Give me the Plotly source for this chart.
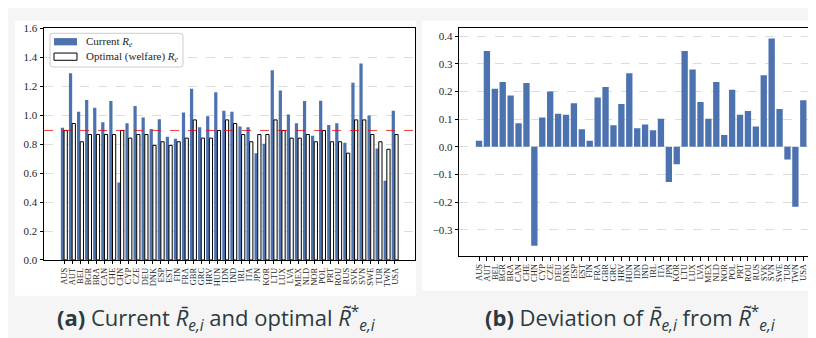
import plotly.graph_objects as go

countries = ["AUS", "AUT", "BEL", "BGR", "BRA", "CAN", "CHE", "CHN", "CYP", "CZE",
             "DEU", "DNK", "ESP", "EST", "FIN", "FRA", "GBR", "GRC", "HRV", "HUN",
             "IDN", "IND", "IRL", "ITA", "JPN", "KOR", "LTU", "LUX", "LVA", "MEX",
             "NLD", "NOR", "POL", "PRT", "ROU", "RUS", "SVK", "SVN", "SWE", "TUR",
             "TWN", "USA"]

current_re = [0.913, 1.290, 1.025, 1.105, 1.052, 0.952, 1.098, 0.535, 0.945, 1.064,
              0.985, 0.905, 0.972, 0.852, 0.838, 1.020, 1.184, 0.918, 0.993, 1.159,
              1.032, 1.025, 0.923, 0.918, 0.738, 0.803, 1.312, 1.172, 1.005, 0.945,
              1.098, 0.858, 1.100, 0.932, 0.945, 0.810, 1.225, 1.358, 0.998, 0.770,
              0.547, 1.032]

optimal_re = [0.895, 0.943, 0.817, 0.867, 0.867, 0.867, 0.867, 0.895, 0.842, 0.867,
              0.867, 0.792, 0.817, 0.792, 0.817, 0.842, 0.968, 0.842, 0.842, 0.895,
              0.968, 0.943, 0.867, 0.817, 0.867, 0.867, 0.968, 0.895, 0.842, 0.842,
              0.867, 0.817, 0.895, 0.817, 0.817, 0.738, 0.968, 0.968, 0.867, 0.817,
              0.765, 0.867]

deviation = [0.022, 0.347, 0.210, 0.235, 0.186, 0.085, 0.231, -0.358, 0.106, 0.200,
             0.120, 0.116, 0.158, 0.064, 0.022, 0.179, 0.217, 0.078, 0.155, 0.266,
             0.067, 0.081, 0.060, 0.102, -0.127, -0.063, 0.347, 0.280, 0.162, 0.102,
             0.235, 0.043, 0.207, 0.116, 0.130, 0.074, 0.259, 0.392, 0.137, -0.046,
             -0.217, 0.169]

mean_optimal = 0.895

legend_labels = ["Current <i>R</i><sub><i>e</i></sub>",
                 "Optimal (welfare) <i>R</i><sub><i>e</i></sub>"]

W, H = 816, 338
BLUE = "#4c72b0"
SERIF = "Liberation Serif, Times New Roman, serif"
idx = list(range(len(countries)))

fig = go.Figure()

fig.add_trace(go.Bar(x=idx, y=current_re, width=0.4, offset=-0.4,
                     marker=dict(color=BLUE, line=dict(width=0)),
                     name="Current R_e", showlegend=False,
                     xaxis="x", yaxis="y"))
fig.add_trace(go.Bar(x=idx, y=optimal_re, width=0.4, offset=0.0,
                     marker=dict(color="white", line=dict(color="black", width=1)),
                     name="Optimal (welfare) R_e", showlegend=False,
                     xaxis="x", yaxis="y"))
fig.add_trace(go.Bar(x=idx, y=deviation, width=0.8,
                     marker=dict(color=BLUE, line=dict(width=0)),
                     name="Deviation", showlegend=False, xaxis="x2", yaxis="y2"))


def px_x(p):
    return p / W


def px_y(p):
    return 1 - p / H


line_common = dict(showline=True, linecolor="black", linewidth=1, mirror=True,
                   ticks="outside", ticklen=3.5, tickwidth=0.8, tickcolor="black",
                   zeroline=False)
ytick_font = dict(family=SERIF, size=11, color="#262626")
xtick_font = dict(family=SERIF, size=8.5, color="#262626")

xr = [-2.49, 43.49]
fig.update_layout(
    width=W, height=H,
    margin=dict(l=0, r=0, t=0, b=0),
    paper_bgcolor="#f5f5f5",
    plot_bgcolor="white",
    barmode="overlay",
    showlegend=False,
    xaxis=dict(domain=[px_x(36), px_x(407)], range=xr, tickmode="array",
               tickvals=idx, ticktext=countries, tickangle=-90, showgrid=False,
               anchor="y", tickfont=xtick_font, **line_common),
    yaxis=dict(domain=[px_y(255), px_y(15)], range=[0, 1.6], dtick=0.2,
               tickformat=".1f", showgrid=True, gridcolor="#dcdcdc",
               griddash="dash", gridwidth=1, anchor="x", tickfont=ytick_font,
               **line_common),
    xaxis2=dict(domain=[px_x(451.3), px_x(815)], range=xr, tickmode="array",
                tickvals=idx, ticktext=countries, tickangle=-90, showgrid=False,
                anchor="y2", tickfont=xtick_font, **line_common),
    yaxis2=dict(domain=[px_y(251), px_y(14.7)], range=[-0.3955, 0.4295], dtick=0.1,
                tickformat=".1f", showgrid=True, gridcolor="#dcdcdc",
                griddash="dash", gridwidth=1, anchor="x2", tickfont=ytick_font,
                **line_common),
)


def rounded_rect(x0, y0, x1, y1, r):
    # pixel coords -> paper path with rounded corners
    X = lambda p: px_x(p)
    Y = lambda p: px_y(p)
    return (f"M {X(x0 + r)} {Y(y0)} L {X(x1 - r)} {Y(y0)} "
            f"Q {X(x1)} {Y(y0)} {X(x1)} {Y(y0 + r)} L {X(x1)} {Y(y1 - r)} "
            f"Q {X(x1)} {Y(y1)} {X(x1 - r)} {Y(y1)} L {X(x0 + r)} {Y(y1)} "
            f"Q {X(x0)} {Y(y1)} {X(x0)} {Y(y1 - r)} L {X(x0)} {Y(y0 + r)} "
            f"Q {X(x0)} {Y(y0)} {X(x0 + r)} {Y(y0)} Z")


shapes = [
    dict(type="rect", xref="paper", yref="paper", x0=px_x(7), x1=px_x(408),
         y0=px_y(292), y1=px_y(7), fillcolor="white", line=dict(width=0), layer="below"),
    dict(type="rect", xref="paper", yref="paper", x0=px_x(414), x1=1.0,
         y0=px_y(287), y1=px_y(7), fillcolor="white", line=dict(width=0), layer="below"),
    dict(type="line", xref="x domain", yref="y", x0=0, x1=1, y0=mean_optimal, y1=mean_optimal,
         line=dict(color="rgba(230,0,0,0.75)", width=1, dash="dash"), layer="above"),
    # legend box and patches
    dict(type="path", xref="paper", yref="paper", path=rounded_rect(42, 20, 175, 55, 3),
         fillcolor="rgba(255,255,255,0.85)", line=dict(color="#cccccc", width=1), layer="above"),
    dict(type="rect", xref="paper", yref="paper", x0=px_x(46), x1=px_x(69),
         y0=px_y(32.5), y1=px_y(25), fillcolor=BLUE, line=dict(width=0), layer="above"),
    dict(type="rect", xref="paper", yref="paper", x0=px_x(46), x1=px_x(69),
         y0=px_y(48), y1=px_y(40.5), fillcolor="white", line=dict(color="black", width=1),
         layer="above"),
]
fig.update_layout(shapes=shapes)

legend_font = dict(family=SERIF, size=11, color="#262626")
for lbl, yc in zip(legend_labels, [29, 44.5]):
    fig.add_annotation(xref="paper", yref="paper", x=px_x(76), y=px_y(yc),
                       text=lbl, showarrow=False, font=legend_font,
                       xanchor="left", yanchor="middle")

CAP_FONT = dict(family="Open Sans, Noto Sans, sans-serif", size=22, color="#2b3a40")
fig.add_annotation(xref="paper", yref="paper", x=px_x(208), y=px_y(316),
                   text="<b>(a)</b> Current <i>R\u0304</i><sub><i>e,i</i></sub> and optimal <i>R\u0303</i><sup>*</sup><sub><i>e,i</i></sub>",
                   showarrow=False, font=CAP_FONT, xanchor="center", yanchor="middle")
fig.add_annotation(xref="paper", yref="paper", x=px_x(622), y=px_y(316),
                   text="<b>(b)</b> Deviation of <i>R\u0304</i><sub><i>e,i</i></sub> from <i>R\u0303</i><sup>*</sup><sub><i>e,i</i></sub>",
                   showarrow=False, font=CAP_FONT, xanchor="center", yanchor="middle")

fig.write_html("out.html")
